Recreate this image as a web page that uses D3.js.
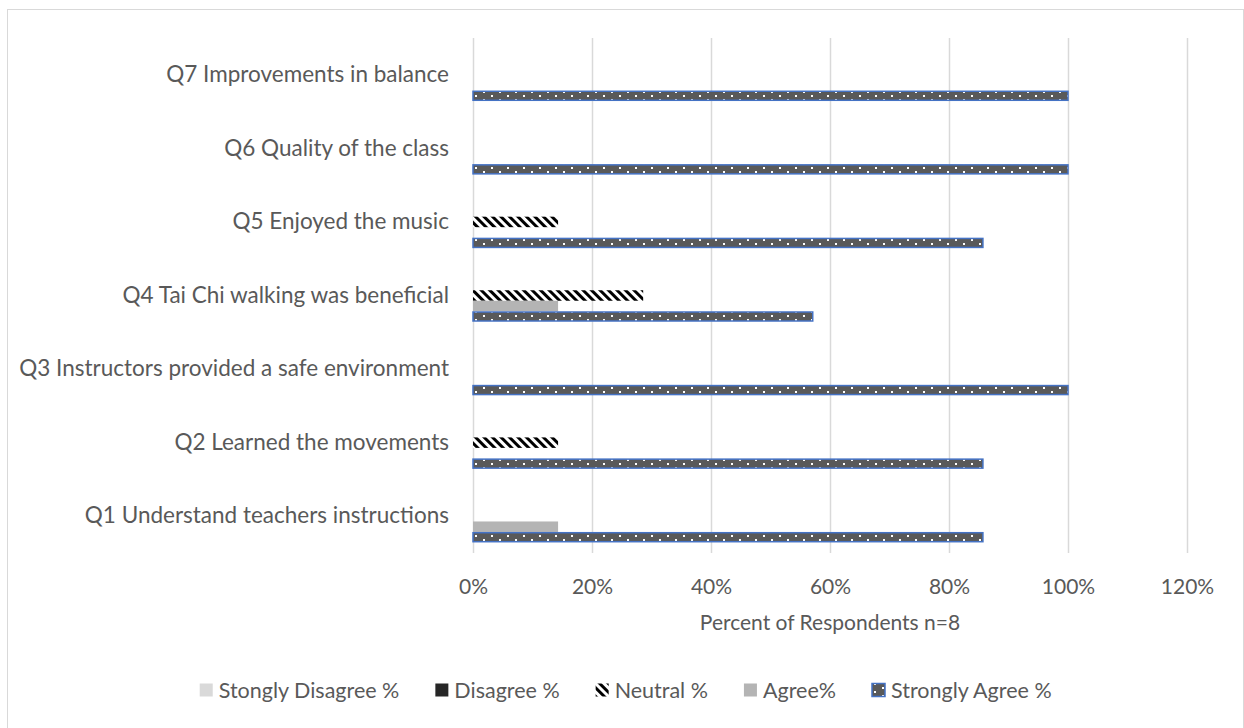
<!DOCTYPE html>
<html>
<head>
<meta charset="utf-8">
<script src="https://cdn.jsdelivr.net/npm/d3@7"></script>
<style>
  body { margin: 0; background: #fff; }
  svg text { font-family: Lato, "Open Sans", sans-serif; fill: #595959; }
</style>
</head>
<body>
<svg id="chart" width="1244" height="728"></svg>
<script>
// questions, bottom to top as in the source
const questions = [
    "Q1 Understand teachers instructions",
    "Q2 Learned the movements",
    "Q3 Instructors provided a safe environment",
    "Q4 Tai Chi walking was beneficial",
    "Q5 Enjoyed the music",
    "Q6 Quality of the class",
    "Q7 Improvements in balance"
];
const seriesNames = ["Stongly Disagree %", "Disagree %", "Neutral %", "Agree%", "Strongly Agree %"];
// values per series, same order as questions
const stronglyDisagree = [0, 0, 0, 0, 0, 0, 0];
const disagree = [0, 0, 0, 0, 0, 0, 0];
const neutral = [0, 0.143, 0, 0.286, 0.143, 0, 0];
const agree = [0.143, 0, 0, 0.143, 0, 0, 0];
const stronglyAgree = [0.857, 0.857, 1, 0.571, 0.857, 1, 1];
const xTicks = [0, 0.2, 0.4, 0.6, 0.8, 1, 1.2];

const seriesValues = [stronglyDisagree, disagree, neutral, agree, stronglyAgree];

const svg = d3.select("#chart");
const margin = { left: 473, right: 57, top: 38, bottom: 175 };
const width = 1244 - margin.left - margin.right;
const height = 728 - margin.top - margin.bottom;

// patterns for the filled series
const defs = svg.append("defs");
const dots = defs.append("pattern")
    .attr("id", "dots")
    .attr("patternUnits", "userSpaceOnUse")
    .attr("width", 16).attr("height", 8);
dots.append("rect").attr("width", 16).attr("height", 8).attr("fill", "#595959");
dots.append("rect").attr("x", 2).attr("y", 1).attr("width", 2).attr("height", 2).attr("fill", "#fff");
dots.append("rect").attr("x", 10).attr("y", 5).attr("width", 2).attr("height", 2).attr("fill", "#fff");

const stripes = defs.append("pattern")
    .attr("id", "stripes")
    .attr("patternUnits", "userSpaceOnUse")
    .attr("width", 6).attr("height", 6)
    .attr("patternTransform", "rotate(-45)");
stripes.append("rect").attr("width", 6).attr("height", 6).attr("fill", "#fff");
stripes.append("rect").attr("width", 3).attr("height", 6).attr("fill", "#000");

const fills = ["#d9d9d9", "#262626", "url(#stripes)", "#b4b4b4", "url(#dots)"];
const strokes = [null, null, null, null, "#4472c4"];

// outer frame
svg.append("rect")
    .attr("x", 7.5).attr("y", 9.5)
    .attr("width", 1236).attr("height", 725)
    .attr("fill", "none").attr("stroke", "#d9d9d9");

const g = svg.append("g").attr("transform", `translate(${margin.left},${margin.top})`);

const x = d3.scaleLinear().domain([0, 1.2]).range([0, width]);
const y = d3.scaleBand().domain(questions.slice().reverse()).range([0, height]);
const slot = 10.5;
const slots = d3.scaleBand().domain(d3.range(seriesNames.length))
    .range([y.bandwidth() / 2 - slot * 2.5, y.bandwidth() / 2 + slot * 2.5]);

// gridlines
g.append("g")
    .selectAll("line")
    .data(xTicks)
    .join("line")
    .attr("x1", d => Math.round(x(d)) + 0.5)
    .attr("x2", d => Math.round(x(d)) + 0.5)
    .attr("y1", 0).attr("y2", height)
    .attr("stroke", "#d9d9d9")
    .attr("stroke-width", 1.5);

// tick labels
const xAxis = g.append("g")
    .attr("transform", `translate(0,${height})`)
    .call(d3.axisBottom(x).tickValues(xTicks).tickFormat(d3.format(".0%")).tickSize(0).tickPadding(26));
xAxis.select(".domain").remove();
xAxis.selectAll("text").style("font-size", "21px").attr("fill", "#595959");

// category labels
const yAxis = g.append("g")
    .call(d3.axisLeft(y).tickSize(0).tickPadding(24));
yAxis.select(".domain").remove();
yAxis.selectAll("text").style("font-size", "22.5px").attr("fill", "#595959");

// bars
seriesValues.forEach((vals, si) => {
    g.append("g")
        .selectAll("rect")
        .data(questions.map((q, i) => ({ q, v: vals[i] })).filter(d => d.v > 0))
        .join("rect")
        .attr("x", 0)
        .attr("y", d => y(d.q) + slots(si) + (strokes[si] ? 0.75 : 0))
        .attr("width", d => x(d.v))
        .attr("height", slots.bandwidth() - (strokes[si] ? 1.5 : 0))
        .attr("fill", fills[si])
        .attr("stroke", strokes[si])
        .attr("stroke-width", strokes[si] ? 1.5 : null);
});

// axis title
svg.append("text")
    .attr("x", margin.left + width / 2)
    .attr("y", 630)
    .attr("text-anchor", "middle")
    .style("font-size", "21px")
    .text("Percent of Respondents n=8");

// legend
const legend = svg.append("g");
const items = legend.selectAll("g")
    .data(seriesNames)
    .join("g");
items.append("rect")
    .attr("width", 13).attr("height", 13)
    .attr("y", -6.5)
    .attr("fill", (d, i) => fills[i])
    .attr("stroke", (d, i) => strokes[i])
    .attr("stroke-width", 1.5);
items.append("text")
    .attr("x", 19)
    .attr("dy", "0.35em")
    .style("font-size", "21.5px")
    .text(d => d);
const gap = 36;
let cursor = 0;
let lastX = 0;
items.each(function () {
    const w = this.getBBox().width;
    d3.select(this).attr("transform", `translate(${cursor},0)`);
    lastX = cursor;
    cursor += w + gap;
});
// line the last swatch up with where it sits in the source
legend.attr("transform", `translate(${872 - lastX},690)`);
</script>
</body>
</html>
